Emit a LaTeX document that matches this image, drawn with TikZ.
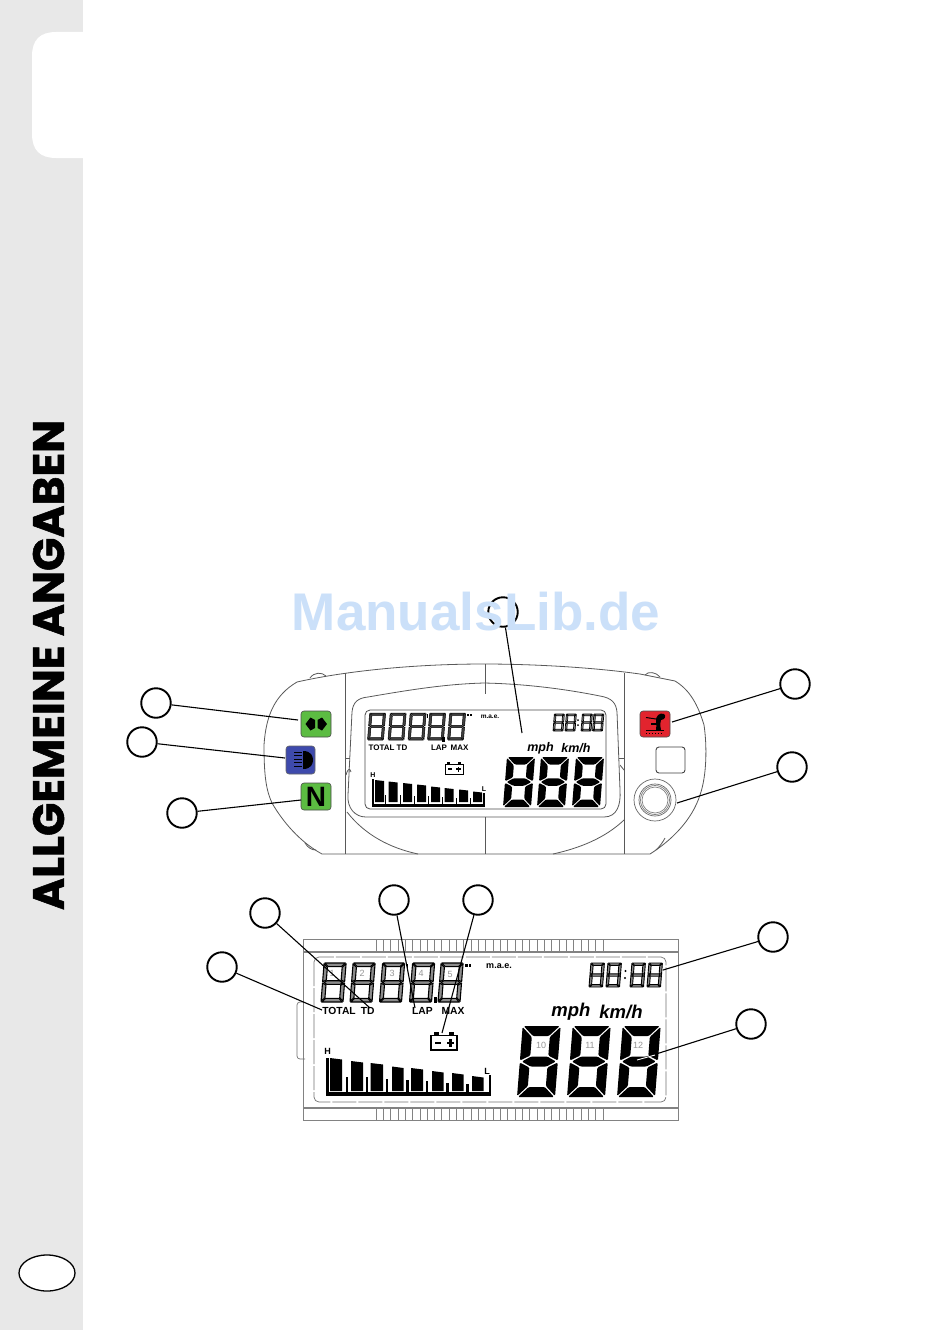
\documentclass[tikz,border=0pt]{standalone}
\usepackage{fontspec}
\usetikzlibrary{shapes.geometric}
\setmainfont{Liberation Sans}
\newfontfamily\sidefont[BoldFeatures={FakeBold=1.2}]{Poppins}
\definecolor{band}{RGB}{232,232,232}
\definecolor{wm}{RGB}{203,224,249}
\definecolor{btngreen}{RGB}{92,188,66}
\definecolor{btnblue}{RGB}{62,74,172}
\definecolor{btnred}{RGB}{226,36,46}
\definecolor{lcdgray}{RGB}{130,130,130}
\definecolor{numgray}{RGB}{150,150,150}
\tikzset{
  callout/.style={circle,draw=black,line width=1.9pt,minimum size=29.5pt,inner sep=0pt,fill=white},
  leader/.style={draw=black,line width=1.1pt},
  body/.style={draw=black!65,line width=.8pt},
  lcdline/.style={draw=lcdgray,line width=1pt},
  btn/.style={rounded corners=3pt,draw=black!70,line width=.6pt},
  seglit/.style={fill=black,draw=none,rounded corners=1.2pt},
  segdark/.style={fill=black!75,draw=black,line width=.5pt,line join=round},
  segopen/.style={fill=black!45,draw=black,line width=.9pt,line join=round},
  lab/.style={font=\bfseries,inner sep=0pt,text=black},
  numlab/.style={font=\fontsize{9}{9}\selectfont,text=numgray,inner sep=0pt}
}
\newcommand{\segdigit}[6]{%
 \begin{scope}[shift={({#1+.08*#4},#2)},xslant=.08]
  \pgfmathsetmacro\dgW{#3}\pgfmathsetmacro\dgH{#4}\pgfmathsetmacro\dgT{#5}\pgfmathsetmacro\dgG{.02*#3+.25}
  \path[#6] (\dgG,0)--(\dgW-\dgG,0)--(\dgW-\dgG-\dgT,\dgT)--(\dgG+\dgT,\dgT)--cycle;
  \path[#6] (\dgG,\dgH)--(\dgW-\dgG,\dgH)--(\dgW-\dgG-\dgT,\dgH-\dgT)--(\dgG+\dgT,\dgH-\dgT)--cycle;
  \path[#6] (2*\dgG,\dgH/2)--(\dgT+\dgG,\dgH/2-\dgT/2)--(\dgW-\dgG-\dgT,\dgH/2-\dgT/2)--(\dgW-2*\dgG,\dgH/2)--(\dgW-\dgG-\dgT,\dgH/2+\dgT/2)--(\dgT+\dgG,\dgH/2+\dgT/2)--cycle;
  \path[#6] (0,\dgG)--(\dgT,\dgG+\dgT)--(\dgT,\dgH/2-\dgT/2-\dgG)--(0,\dgH/2-\dgG)--cycle;
  \path[#6] (0,\dgH/2+\dgG)--(\dgT,\dgH/2+\dgT/2+\dgG)--(\dgT,\dgH-\dgG-\dgT)--(0,\dgH-\dgG)--cycle;
  \path[#6] (\dgW,\dgG)--(\dgW-\dgT,\dgG+\dgT)--(\dgW-\dgT,\dgH/2-\dgT/2-\dgG)--(\dgW,\dgH/2-\dgG)--cycle;
  \path[#6] (\dgW,\dgH/2+\dgG)--(\dgW-\dgT,\dgH/2+\dgT/2+\dgG)--(\dgW-\dgT,\dgH-\dgG-\dgT)--(\dgW,\dgH-\dgG)--cycle;
 \end{scope}}
\newcommand{\battery}[5]{% x,y,w,h,lw  (top-left)
 \begin{scope}[shift={(#1,#2)},x=#3pt,y=-#4pt]
  \draw[line width=#5pt,fill=white] (0,.18) rectangle (1,1);
  \fill (.1,0) rectangle (.3,.18); \fill (.7,0) rectangle (.9,.18);
  \fill (.14,.54) rectangle (.4,.66);
  \fill (.62,.54) rectangle (.88,.66); \fill (.7,.38) rectangle (.8,.82);
 \end{scope}}
\begin{document}
\begin{tikzpicture}[x=1pt,y=-1pt]
\useasboundingbox (0,0) rectangle (950,1330);
\fill[white] (0,0) rectangle (950,1330);
% side band
\fill[band] (0,0) rectangle (83,1330);
\fill[white] (83,32) -- (56,32) .. controls (40,32) and (32,40) .. (32,56) -- (32,134) .. controls (32,150) and (40,158) .. (56,158) -- (83,158) -- cycle;
\node[draw=black,line width=1.3pt,fill=white,ellipse,minimum width=56pt,minimum height=36pt,inner sep=0pt] (pageoval) at (47,1273) {};
\node[rotate=90,inner sep=0pt,text=black] (sidetitle) at (48.5,665) {\sidefont\bfseries\fontsize{43.8}{44}\selectfont ALLGEMEINE ANGABEN};

% ===== upper instrument =====
\path[body] (297,682) .. controls (275,695) and (266,715) .. (264,745) .. controls (264,775) and (266,790) .. (272,803) .. controls (283,822) and (300,842) .. (322,854) -- (650,854) .. controls (672,840) and (692,820) .. (700,795) .. controls (707,775) and (707,745) .. (704,725) .. controls (698,705) and (690,690) .. (675,681) -- (640,674) .. controls (590,667) and (530,664) .. (484,664) .. controls (420,664) and (350,670) .. (297,682);
\path[body] (310,678) .. controls (314,672) and (322,672) .. (326,676);
\path[body] (645,675) .. controls (648,671) and (656,672) .. (660,677);
\path[body] (305,843) .. controls (308,848) and (312,850) .. (316,850);
\path[body] (656,850) .. controls (660,846) and (663,842) .. (665,838);
\path[body] (345,673) -- (345,854);
\path[body] (624,673) -- (624,854);
\path[body] (485,664) -- (485,694);
\path[body] (485,817) -- (485,854);
\path[body] (345,758) -- (350,758);
\path[body] (619,758) -- (624,758);
\path[body] (346,775) .. controls (348,768) and (350,768) .. (351,772);
\path[body] (624,770) -- (620,765);
% bezel
\path[body] (368,697) .. controls (420,688) and (450,684) .. (484,683) .. controls (530,684) and (570,690) .. (600,696) .. controls (612,698) and (616,703) .. (617,712) -- (620,790) .. controls (621,805) and (617,817) .. (604,817) -- (366,817) .. controls (355,817) and (347,808) .. (348,795) -- (352,712) .. controls (353,702) and (358,698) .. (368,697);
\path[body] (347,812) .. controls (365,835) and (390,848) .. (418,854);
\path[body] (624,820) .. controls (605,838) and (580,848) .. (553,854);
% LCD window
\path[draw=black!70,line width=.8pt,rounded corners=5pt] (365,710) rectangle (606,809);

% digits upper
\foreach \dx in {367.5,388,408,427.5,447.5} {\segdigit{\dx}{713}{16}{27}{2.4}{segdark}}
\foreach \dx in {553,565,581,592.5} {\segdigit{\dx}{714}{10}{17}{1.7}{segopen,line width=.7pt}}
\foreach \dx in {503,537,572} {\segdigit{\dx}{757}{28}{50}{7.5}{seglit}}
\fill (578,720) circle (1); \fill (578,725) circle (1);
\fill (467,714) rectangle (469,716); \fill (470,714) rectangle (472,716);
\fill (442,737) rectangle (445,742);
\fill (426.5,714) rectangle (428,718);
\node[lab,font=\bfseries\fontsize{6.5}{6.5}\selectfont] (upmae) at (490,716.5) {m.a.e.};
\node[lab,font=\bfseries\fontsize{8}{8}\selectfont] (uptotal) at (388,748) {TOTAL TD};
\node[lab,font=\bfseries\fontsize{8}{8}\selectfont] (uplap) at (439,748) {LAP};
\node[lab,font=\bfseries\fontsize{8}{8}\selectfont] (upmax) at (459.5,748) {MAX};
\node[lab,font=\bfseries\itshape\fontsize{12.5}{12.5}\selectfont] (upmph) at (540.5,748) {mph};
\node[lab,font=\bfseries\itshape\fontsize{12.5}{12.5}\selectfont] (upkmh) at (576,748) {km/h};
\battery{445}{762}{18}{12}{1}
\node[lab,font=\bfseries\fontsize{7}{7}\selectfont] (uph) at (373,775) {H};
\node[lab,font=\bfseries\fontsize{7}{7}\selectfont] (upl) at (484,789.5) {L};
% bars upper
\fill (372,779) rectangle (374,807);
\fill (372,804) rectangle (484,807);
\fill (483,793) rectangle (484.5,807);
\foreach \bx/\bt in {375/780,388.5/781.5,403/783,417/784.5,431/786.5,444.5/788,459/789.5,473/791.5}
  {\fill (\bx,\bt) -- (\bx+9,\bt+1) -- (\bx+9,802) -- (\bx,802) -- cycle;}
\foreach \bx/\bt in {385/795,399.5/795,414/796,428/796,441.5/797,455.5/798,470/798}
  {\fill (\bx,\bt) rectangle (\bx+1.3,805);}

% buttons
\path[btn,fill=btngreen] (301,711) rectangle (331,737);
\fill (305.5,724) -- (310.5,717.5) -- (315,720) -- (315,728) -- (310.5,730.5) -- cycle;
\fill (327,724) -- (322,717.5) -- (317.5,720) -- (317.5,728) -- (322,730.5) -- cycle;
\path[btn,fill=btnblue,draw=black!60] (286,746) rectangle (315,774);
\fill (303,751) .. controls (311,751) and (313,756) .. (313,760) .. controls (313,764) and (311,769) .. (303,769) -- cycle;
\foreach \ly in {752,755.5,759,762.5,766} {\draw[black,line width=.6pt] (294,\ly) -- (302,\ly);}
\path[btn,fill=btngreen] (301,783) rectangle (331,810);
\node[lab,font=\bfseries\fontsize{28}{28}\selectfont] (neutral) at (316,797) {N};
\path[btn,fill=btnred] (640,711) rectangle (670,737);
\draw[line width=1.3pt] (646,730.5) -- (664,730.5);
\draw[line width=1pt,dotted] (646,733) -- (664,733);
\draw[line width=1pt] (646,717.5) -- (656,719);
\fill (656,722) .. controls (655,716) and (660,712) .. (664,714) .. controls (667,716) and (664,720) .. (661,720) .. controls (660,724) and (660,727) .. (661,730) -- (656,730) .. controls (656,727) and (657,724) .. (656,722);
\draw[line width=1.1pt] (651,724) -- (657,724);
\path[btn,draw=black!75,line width=.9pt,fill=white] (656,747) rectangle (685,773);
% knob
\draw[black!60,line width=.7pt] (655,800) circle (21);
\draw[black!60,line width=.7pt] (655,800) circle (16);
\draw[black!50,line width=.7pt] (655,800) circle (14.5);
\draw[black!50,line width=.7pt] (655,800) circle (13);

% ===== lower LCD =====
\path[lcdline] (303,939) rectangle (678,1120);
\path[lcdline,line width=2pt] (303,951.5) -- (678,951.5);
\path[lcdline,line width=2pt] (303,1108) -- (678,1108);
\foreach \tx in {0,...,31} {
  \path[lcdline,line width=.8pt] ({376+\tx*7.32},939) -- ({376+\tx*7.32},951);
  \path[lcdline,line width=.8pt] ({376+\tx*7.32},1108) -- ({376+\tx*7.32},1120);
}
\path[draw=black!55,line width=.7pt,rounded corners=5pt,dash pattern=on 24pt off 2pt] (314,957) rectangle (666,1102);
\path[draw=black!55,line width=.7pt,rounded corners=3pt] (303,1002) -- (297,1002) -- (297,1059) -- (305,1059);

\foreach \dx in {321,350,379.5,409.5,438} {\segdigit{\dx}{963}{22}{39}{3.6}{segopen,line width=1.1pt}}
\foreach \dx in {589,606,630,647} {\segdigit{\dx}{963}{13.5}{24}{2.4}{segopen}}
\foreach \dx in {517,567,617} {\segdigit{\dx}{1026}{38}{71}{10}{seglit}}
\fill (625.5,971) circle (1.2); \fill (625,978) circle (1.2);
\fill (465,964) rectangle (467.5,967); \fill (468.5,964) rectangle (471,967);
\fill (434,997) rectangle (437,1003);
\fill (406.5,964) rectangle (408,969);
\node[numlab] (n1) at (332,973) {1};
\node[numlab] (n2) at (362,973) {2};
\node[numlab] (n3) at (392,973) {3};
\node[numlab] (n4) at (421,973) {4};
\node[numlab] (n5) at (450,974) {5};
\node[numlab] (n10) at (541,1045) {10};
\node[numlab] (n11) at (590,1045) {11};
\node[numlab] (n12) at (638,1045) {12};
\node[lab,font=\bfseries\fontsize{10.3}{10.3}\selectfont] (lototal) at (348.5,1011) {TOTAL\,\,\,TD};
\node[lab,font=\bfseries\fontsize{10.3}{10.3}\selectfont] (lolap) at (422.5,1011) {LAP};
\node[lab,font=\bfseries\fontsize{10.3}{10.3}\selectfont] (lomax) at (453,1011) {MAX};
\node[lab,font=\bfseries\fontsize{9}{9}\selectfont] (lomae) at (499,966.5) {m.a.e.};
\node[lab,font=\bfseries\itshape\fontsize{18.5}{18.5}\selectfont] (lomph) at (571,1012) {mph};
\node[lab,font=\bfseries\itshape\fontsize{18.5}{18.5}\selectfont] (lokmh) at (621,1012) {km/h};
\battery{431}{1032}{26}{18}{1.4}
\node[lab,font=\bfseries\fontsize{9}{9}\selectfont] (loh) at (327.5,1051.5) {H};
\node[lab,font=\bfseries\fontsize{9}{9}\selectfont] (lol) at (487,1071.5) {L};
% bars lower
\fill (326,1058) rectangle (328.5,1096);
\fill (326,1092) rectangle (491,1096);
\fill (488.5,1075) rectangle (491,1096);
\foreach \bx/\bw/\bt in {330/12/1058,351/12/1061,370.5/12.5/1063,392/11.5/1066.5,411/12/1068,432/11.5/1071,452/11.5/1073,472/11.5/1076}
  {\fill (\bx,\bt) -- (\bx+\bw,\bt+1.5) -- (\bx+\bw,1091) -- (\bx,1091) -- cycle;}
\foreach \bx/\bt in {345.5/1077,365.5/1077,385.5/1079,406/1080,425.5/1081,446/1083,466/1084}
  {\fill (\bx,\bt) rectangle (\bx+2.6,1094);}

% callouts
\node[callout] (c1) at (156,703) {};
\node[callout] (c2) at (142,742) {};
\node[callout] (c3) at (182,813) {};
\node[callout] (c4) at (503,612) {};
\node[callout] (c5) at (795,684) {};
\node[callout] (c6) at (792,767) {};
\node[callout] (c7) at (265,913) {};
\node[callout] (c8) at (222,967) {};
\node[callout] (c9) at (394,900) {};
\node[callout] (c10) at (478,900) {};
\node[callout] (c11) at (773,937) {};
\node[callout] (c12) at (751,1024) {};
\coordinate (e1) at (298,720);
\coordinate (e2) at (285,758);
\coordinate (e3) at (301,800);
\coordinate (e4) at (522,733);
\coordinate (e5) at (672,722);
\coordinate (e6) at (677,803);
\coordinate (e7) at (370,1008);
\coordinate (e8) at (322,1010);
\coordinate (e9) at (415,1008);
\coordinate (e10) at (442,1033);
\coordinate (e11) at (663,970);
\coordinate (e12) at (637,1060);
\foreach \i in {1,...,12} {\path[leader] (c\i) -- (e\i);}
\draw[white,line width=.9pt] (e12) -- (655,1055);

% watermark
\node[inner sep=0pt,text=wm] (watermark) at (476,612) {\bfseries\fontsize{53}{53}\selectfont ManualsLib.de};
\end{tikzpicture}
\end{document}
